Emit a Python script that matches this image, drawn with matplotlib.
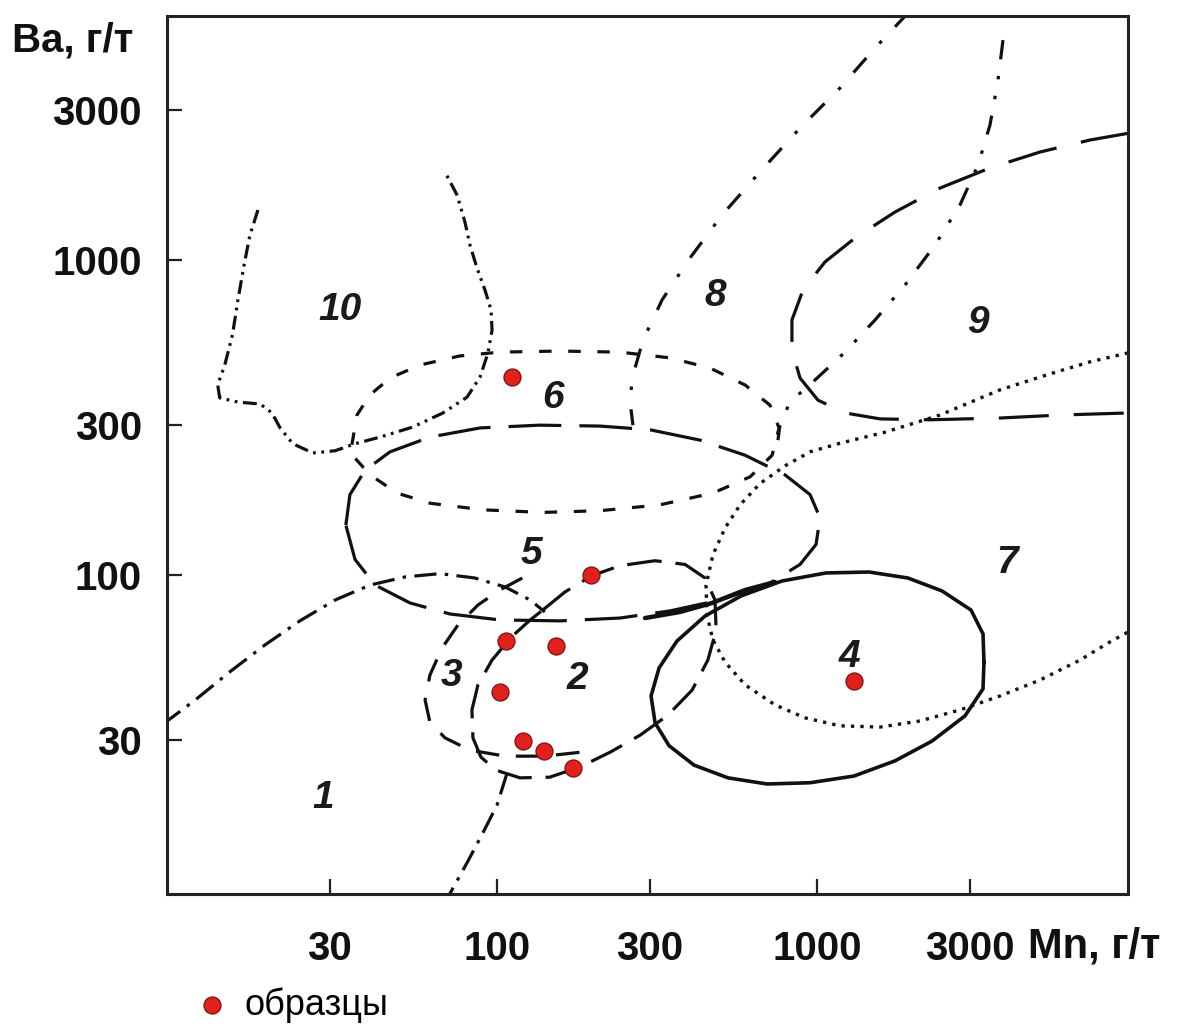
import matplotlib
matplotlib.use("Agg")
import matplotlib.pyplot as plt

plt.rcParams['font.family'] = ['Liberation Sans', 'DejaVu Sans']
plt.rcParams['lines.scale_dashes'] = False

# ---- data (Mn, Ba in g/t) ----
ticks = [30, 100, 300, 1000, 3000]
tick_labels = ['30', '100', '300', '1000', '3000']

# field boundaries
f10_mn = [17.9, 16.9, 16.2, 15.5, 14.9, 14.1, 13.4, 13.6, 15.5, 18.2, 19.8, 21.0, 23.0, 26.6, 31.2, 36.0,
          43.1, 54.6, 67.8, 80.6, 88.5, 93.7, 96.5, 95.8, 91.7, 86.6, 82.3, 79.4, 75.0, 68.8]
f10_ba = [1441, 1200, 964, 746, 578, 464, 401, 365, 354, 349, 327, 293, 261, 244, 248, 261,
          274, 295, 327, 367, 425, 507, 599, 694, 803, 943, 1116, 1320, 1608, 1903]

f6_mn = [35.2, 36.5, 40.1, 46.3, 57.4, 76.6, 102, 157, 242, 347, 463, 596, 713, 761, 724, 618, 473,
         323, 210, 139, 90.4, 61.7, 48.7, 40.1, 36.0, 35.2]
f6_ba = [259, 322, 373, 422, 464, 496, 510, 514, 510, 489, 454, 401, 346, 293, 240, 205, 182,
         167, 160, 158, 161, 169, 182, 208, 235, 259]

f5_mn = [33.7, 34.7, 38.7, 46.3, 61.7, 88.5, 136, 210, 301, 431, 596, 794, 951, 1022, 993, 885, 713,
         498, 347, 242, 157, 102, 71.3, 53.5, 41.6, 36.0, 33.7]
f5_ba = [144, 180, 215, 246, 274, 293, 299, 297, 289, 268, 240, 208, 180, 152, 125, 108, 94.3,
         83.3, 76.9, 73.0, 71.5, 72.0, 75.2, 81.5, 92.9, 112, 144]

f4_mn = [3325, 3302, 3029, 2458, 1925, 1454, 1067, 777, 579, 447, 365, 321, 303, 312, 345, 413, 527,
         698, 951, 1305, 1753, 2288, 2900, 3302, 3325]
f4_ba = [52.9, 65.0, 77.4, 89.0, 97.8, 102.2, 101.5, 95.7, 85.8, 74.1, 61.7, 50.7, 41.3, 33.9, 28.7,
         24.9, 22.7, 21.7, 21.9, 23.0, 25.7, 29.7, 35.7, 43.5, 52.9]
# heavy joint where boundaries 4 and 5 meet
f45_mn = [290, 373, 470, 596, 739]
f45_ba = [73.0, 76.3, 81.5, 89.6, 95.0]

f7_mn = [9373, 7131, 5348, 3731, 2423, 1631, 1180, 951, 794, 663, 575, 516, 473, 450, 453, 473, 516,
         596, 739, 917, 1180, 1574, 2098, 2798, 3731, 4976, 6635, 8232, 9373]
f7_ba = [507, 475, 435, 387, 322, 284, 262, 246, 222, 195, 167, 141, 116, 92.9, 74.6, 62.2, 52.9,
         44.8, 38.7, 35.2, 33.2, 32.9, 34.4, 37.3, 41.3, 46.4, 53.7, 61.3, 65.9]

f8_mn = [1930, 1518, 1180, 885, 663, 505, 401, 328, 286, 266, 260, 266]
f8_ba = [6100, 4710, 3516, 2624, 1903, 1389, 1015, 747, 557, 431, 359, 299]

f9s_mn = [3813, 3678, 3472, 3185, 2798, 2337, 1884, 1518, 1223, 986, 823, 766, 755]
f9s_ba = [4992, 3727, 2683, 2002, 1495, 1116, 833, 645, 510, 416, 354, 299, 268]

f9_mn = [9509, 7131, 4976, 3472, 2423, 1753, 1315, 1059, 904, 835, 835, 885, 1007, 1223, 1574,
         2255, 3731, 5746, 9509]
f9_ba = [2531, 2404, 2202, 1960, 1692, 1420, 1175, 986, 803, 645, 518, 422, 359, 327, 313,
         311, 315, 322, 327]

f1_mn = [9.0, 11.4, 14.6, 18.8, 24.2, 31.2, 40.1, 51.6, 66.4, 85.4, 106, 127, 141]
f1_ba = [33.5, 40.1, 49.2, 59.9, 71.5, 83.3, 92.9, 98.6, 101, 97.8, 91.6, 83.3, 76.3]
f1b_mn = [107.5, 100, 90.4, 80.6, 70.3]
f1b_ba = [23.5, 18.6, 15.2, 12.2, 9.5]

f2_mn = [139, 163, 197, 242, 312, 387, 447, 480, 484, 456, 407, 342, 280, 226, 182, 146, 118, 99.3,
         89.1, 84.1, 83.5, 87.2, 96.5, 111, 127, 139]
f2_ba = [77.4, 88.3, 99.3, 107, 111, 108, 97.8, 83.3, 66.9, 53.7, 43.1, 35.9, 31.0, 27.4, 24.6, 22.8,
         22.7, 24.0, 26.4, 30.4, 37.3, 44.8, 53.7, 63.6, 72.0, 77.4]

f3_mn = [120, 102, 87.2, 75.5, 67.3, 61.7, 59.6, 61.7, 68.8, 82.3, 106, 141, 184]
f3_ba = [97.8, 89.6, 80.3, 69.4, 58.6, 48.1, 40.1, 34.1, 30.4, 27.8, 26.6, 26.6, 27.4]

# field labels
field_names = ['10', '6', '5', '8', '9', '7', '4', '3', '2', '1']
field_mn = [32.3, 150, 128, 480, 3185, 3924, 1259, 72.3, 179, 28.6]
field_ba = [694, 365, 117, 769, 631, 109, 54.9, 47.8, 46.7, 19.6]

# samples
sample_mn = [111, 197, 107, 153, 102, 121, 140, 173, 1305]
sample_ba = [425, 100, 61.7, 59.5, 42.5, 29.7, 27.6, 24.4, 46.1]

# ---- figure ----
fig = plt.figure(figsize=(11.86, 10.24), dpi=100)
ax = fig.add_axes([167 / 1186, 1 - 894 / 1024, (1128 - 167) / 1186, (894 - 16) / 1024])
ax.set_xscale('log')
ax.set_yscale('log')
ax.set_xlim(9.305, 9373)
ax.set_ylim(9.71, 5952)

lc = '#111111'
lw = 2.3
ax.plot(f10_mn, f10_ba, color=lc, lw=lw, ls=(0, (10, 4, 2, 4, 2, 4)))
ax.plot(f6_mn, f6_ba, color=lc, lw=lw, ls=(0, (9, 12)))
ax.plot(f5_mn, f5_ba, color=lc, lw=lw, ls=(0, (38, 13)))
ax.plot(f4_mn, f4_ba, color=lc, lw=2.6, ls='-', solid_joinstyle='round')
ax.plot(f45_mn, f45_ba, color=lc, lw=3.2, ls='-', solid_capstyle='round')
ax.plot(f7_mn, f7_ba, color=lc, lw=2.4, ls=(0, (2.4, 4.4)))
ax.plot(f8_mn, f8_ba, color=lc, lw=lw, ls=(0, (14, 14, 2.5, 14)))
ax.plot(f9s_mn, f9s_ba, color=lc, lw=lw, ls=(0, (14, 12, 2.5, 12, 2.5, 12)))
ax.plot(f9_mn, f9_ba, color=lc, lw=lw, ls=(0, (36, 18)))
ax.plot(f1_mn, f1_ba, color=lc, lw=lw, ls=(0, (16, 6, 2.5, 6)))
ax.plot(f1b_mn, f1b_ba, color=lc, lw=lw, ls=(0, (16, 6, 2.5, 6)))
ax.plot(f2_mn, f2_ba, color=lc, lw=lw, ls=(0, (25, 10)))
ax.plot(f3_mn, f3_ba, color=lc, lw=lw, ls=(0, (17, 12)))

for name, x, y in zip(field_names, field_mn, field_ba):
    ax.text(x, y, name, ha='center', va='center', fontsize=28, fontweight='bold',
            fontstyle='italic', color='#1a1a1a', zorder=4)

sc = ax.scatter(sample_mn, sample_ba, s=150, color='#e3211c', edgecolor='#7a1111',
                linewidths=0.9, zorder=5, label='образцы')

ax.set_xticks(ticks)
ax.set_xticklabels(tick_labels)
ax.set_yticks(ticks)
ax.set_yticklabels(tick_labels)
ax.minorticks_off()
ax.tick_params(axis='both', direction='in', length=11, width=1.6, color='#222222',
               labelsize=29, labelcolor='#111111')
ax.tick_params(axis='x', pad=26)
ax.tick_params(axis='y', pad=18)
for lab in ax.get_xticklabels() + ax.get_yticklabels():
    lab.set_fontweight('bold')
for sp in ax.spines.values():
    sp.set_linewidth(2.2)
    sp.set_color('#222222')

fig.text(12 / 1186, 1 - 40 / 1024, 'Ba, г/т', ha='left', va='center', fontsize=29,
         fontweight='bold', color='#111111')
fig.text(1028 / 1186, 1 - 946 / 1024, 'Mn, г/т', ha='left', va='center', fontsize=30,
         fontweight='bold', color='#111111')

fig.legend(handles=[sc], labels=['образцы'], loc='center left',
           bbox_to_anchor=(198 / 1186, 1 - 1005 / 1024), frameon=False, fontsize=26,
           handlelength=0.8, handletextpad=0.5, borderpad=0, borderaxespad=0)

fig.savefig('out.png', dpi=100, facecolor='white')
